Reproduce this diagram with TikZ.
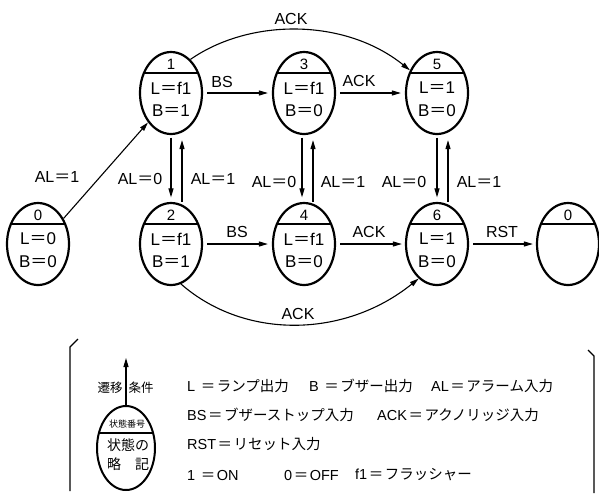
\documentclass[tikz,border=0pt]{standalone}
\usepackage{fontspec}
\setmainfont{Liberation Sans}
\newfontfamily\jp{Noto Sans CJK JP}
\usetikzlibrary{arrows.meta,shapes.geometric}
\newcommand\eq{{\jp ＝}}
\newcommand\keq{\hspace{1.5pt}{\jp ＝}\hspace{1.5pt}}
% one state: ellipse, divider, number on top, outputs below
\newcommand\mkstate[6]{%
  \node[stateshape] (#1) at (#2,#3) {};
  \draw[chord] ([shift={(-27pt,20pt)}]#1.center) -- ([shift={(27pt,20pt)}]#1.center);
  \node[numtxt] at ([yshift=29pt]#1.center) {#4};
  \node[stxt] at ([yshift=5pt]#1.center) {#5};
  \node[stxt] at ([yshift=-18pt]#1.center) {#6};
}
\begin{document}
\begin{tikzpicture}[x=1pt,y=1pt,
  stateshape/.style={draw, line width=2.2pt, ellipse, minimum width=62pt, minimum height=82pt, inner sep=0pt},
  arr/.style={line width=1.1pt, -{Triangle[length=9pt,width=5pt]}},
  lbl/.style={font=\fontsize{16}{16}\selectfont, inner sep=0pt},
  stxt/.style={font=\fontsize{17}{17}\selectfont, inner sep=0pt},
  numtxt/.style={font=\fontsize{15}{15}\selectfont, inner sep=0pt},
  chord/.style={line width=1.3pt},
  legtxt/.style={font=\fontsize{14.5}{14.5}\selectfont, anchor=west, inner sep=0pt},
  keytxt/.style={font=\jp\fontsize{14}{14}\selectfont, inner sep=0pt},
  bracket/.style={line width=1.2pt},
]
\useasboundingbox (0,0) rectangle (599,-493);

% states
\mkstate{s1}{171}{-93}{1}{L\eq f1}{B\eq 1}
\mkstate{s3}{304}{-93}{3}{L\eq f1}{B\eq 0}
\mkstate{s5}{437}{-93}{5}{L\eq 1}{B\eq 0}
\mkstate{s0}{38}{-244}{0}{L\eq 0}{B\eq 0}
\mkstate{s2}{171}{-244}{2}{L\eq f1}{B\eq 1}
\mkstate{s4}{304}{-244}{4}{L\eq f1}{B\eq 0}
\mkstate{s6}{437}{-244}{6}{L\eq 1}{B\eq 0}
\mkstate{s7}{568}{-244}{0}{}{}

% transitions
\draw[arr] (s0.45) -- (s1.232);
\node[lbl] at (57,-177) {AL\eq 1};

\draw[arr, shorten <=4pt, shorten >=4pt] (s1) -- (s3);
\node[lbl] at (222,-82) {BS};
\draw[arr, shorten <=4pt, shorten >=4pt] (s3) -- (s5);
\node[lbl] at (359,-81) {ACK};

\draw[arr, shorten <=4pt, shorten >=4pt] (s2) -- (s4);
\node[lbl] at (237,-232) {BS};
\draw[arr, shorten <=4pt, shorten >=3pt] (s4) -- (s6);
\node[lbl] at (369,-232) {ACK};
\draw[arr, shorten <=4pt, shorten >=3pt] (s6) -- (s7);
\node[lbl] at (502,-232) {RST};

\draw[arr, shorten <=2.5pt, shorten >=4.5pt] (s1.south) -- (s2.north);
\draw[arr, shorten >=5pt] ([xshift=11pt]s2.north) -- ([xshift=11pt]s1.south);
\node[lbl] at (140,-179) {AL\eq 0};
\node[lbl] at (213,-179) {AL\eq 1};

\draw[arr, shorten <=2.5pt, shorten >=4.5pt] ([xshift=-2pt]s3.south) -- ([xshift=-2pt]s4.north);
\draw[arr, shorten >=5pt] ([xshift=9pt]s4.north) -- ([xshift=9pt]s3.south);
\node[lbl] at (274,-182) {AL\eq 0};
\node[lbl] at (343,-182) {AL\eq 1};

\draw[arr, shorten <=2.5pt, shorten >=4.5pt] (s5.south) -- (s6.north);
\draw[arr, shorten >=5pt] ([xshift=11pt]s6.north) -- ([xshift=11pt]s5.south);
\node[lbl] at (404,-182) {AL\eq 0};
\node[lbl] at (479,-182) {AL\eq 1};

\draw[arr] (s1.60) .. controls (250,-18) and (345,-18) .. (s5.140);
\node[lbl] at (291,-19) {ACK};
\draw[arr] (s2.-76) .. controls (245,-340) and (345,-338) .. (s6.242);
\node[lbl] at (298,-314) {ACK};

% legend brackets
\draw[bracket] (78,-339) -- (70,-347) -- (70,-491);
\draw[bracket] (588,-350) -- (594,-356) -- (594,-493);

% legend key state
\node[draw, ellipse, line width=2pt, minimum width=58pt, minimum height=84pt, inner sep=0pt] (key) at (126,-448) {};
\draw[chord] ([shift={(-27pt,15pt)}]key.center) -- ([shift={(27pt,15pt)}]key.center);
\node[font=\jp\fontsize{9}{9}\selectfont, inner sep=0pt] at (127,-424) {状態番号};
\node[keytxt] at (128,-445) {状態の};
\node[keytxt] at (128,-464) {略　記};
\coordinate (keytop) at (126,-358);
\draw[arr] (key.north) -- (keytop);
\node[font=\jp\fontsize{12.5}{12.5}\selectfont, inner sep=0pt] at (110,-388) {遷移};
\node[font=\jp\fontsize{12.5}{12.5}\selectfont, inner sep=0pt] at (141,-388) {条件};

% legend text
\node[legtxt] at (187,-386) {L \keq{\jp ランプ出力}};
\node[legtxt] at (309,-386) {B \keq{\jp ブザー出力}};
\node[legtxt] at (431,-386) {AL\keq{\jp アラーム入力}};
\node[legtxt] at (187,-415) {BS\keq{\jp ブザーストップ入力}};
\node[legtxt] at (377,-415) {ACK\keq{\jp アクノリッジ入力}};
\node[legtxt] at (187,-444) {RST\keq{\jp リセット入力}};
\node[legtxt] at (187,-475) {1 \keq ON};
\node[legtxt] at (284,-475) {0\keq OFF};
\node[legtxt] at (355,-475) {f1\keq{\jp フラッシャー}};
\end{tikzpicture}
\end{document}
